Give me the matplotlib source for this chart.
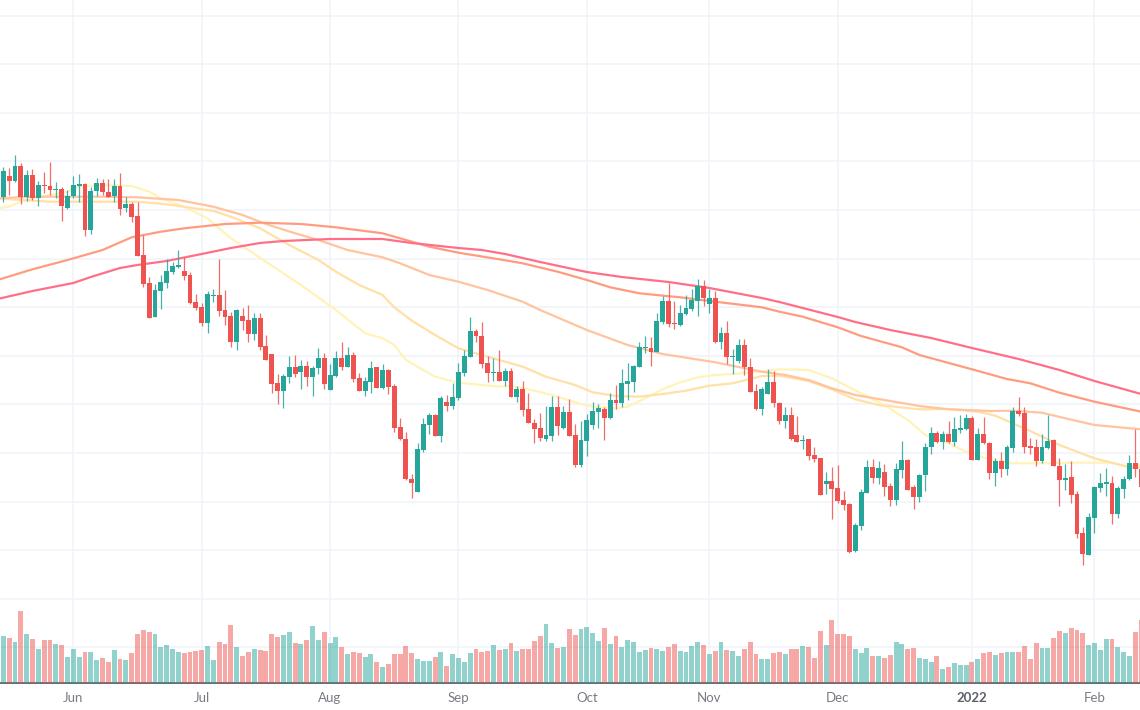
import numpy as np
import matplotlib
matplotlib.use('Agg')
import matplotlib.pyplot as plt

opens = [503,524,519.3,533.7,502.7,525,502,515,514,509.7,511.3,491.7,503.7,514.3,516.3,469.7,508.7,517.3,508.3,503.7,514.3,491.7,495.7,484,445,416.7,383.3,409.3,417,427.7,432.7,428.7,424.7,397.7,392.7,377.3,403.7,405.3,389.7,384,358,384,380,365.7,382,353.7,346,316.7,309,323,333,328.3,334.3,323,331.7,342,310.3,324,342,333.3,345,321.7,309.3,318.3,332.7,
    312,329.7,314,273,261.3,221.3,208.3,249.7,275,284.7,264.3,298,293.7,301.7,326.7,343,369.3,364.3,337,326.7,327.7,319,329.3,303,311,290.7,277,272,261.3,264.3,292.7,272,287.7,265,235,259.3,275,287.7,291.3,281.7,300,297.3,316,318,333.3,351.7,351.7,348,378,399.3,377,375,386,390.7,399.3,414,396,402.3,357.7,367.3,343.3,338.7,354.7,333,309,
    290.7,306.3,318,297.3,279,284.7,265.3,259,260.7,244.7,242,216,219.3,211.7,200,196.3,148.7,174,207,233,221.7,228,214,200,230.3,240,212.7,203,224.7,252.7,267,258.3,266,258.3,270.3,271,281.7,240.3,266,257.3,227.3,239,231.3,251.7,288.7,286.7,253.7,252.7,239,251.7,260,234.3,220,222.7,206,167,145,181.7,212,216,217.3,185.7,211,220.7,237,230.7]
highs = [532.7,531.7,545.3,537.3,530,531,519,527.7,537.7,518,513.3,510,524,526,516.7,513.3,522,521,521,520.7,526.7,503.3,498.3,497.7,464.7,422.7,415.7,424.7,441.3,438.3,450,443.3,428,406,396.7,409,410.7,441.3,410,388,390.7,391.7,394.7,387,387.3,365.3,346.3,326,326,344,345,340,338.7,334,352,346.7,336,348.7,357.7,353.3,348,326.7,323.3,339.3,333.3,
    336,331.3,315.7,281.7,267.7,226,256.7,281.7,286.7,286,304,304.7,316.7,337,350,383,371.3,378,344,342,350,332.3,331.7,314.3,318.7,307,280.7,287.3,294.3,304,304,293.7,301,275.7,279.3,286,298,296,293.3,307.3,314.7,331.3,337,335.3,357.7,364.3,363.3,386.7,404,416.7,399.3,395.3,405,411,420.7,419.7,410.7,409.3,372.7,378.7,350.7,360.7,360.7,341.7,315.7,
    312.7,330.7,329.3,298,293.3,292.7,284,265,261.3,252.7,242.3,228.3,233,234.7,209,196.7,176.7,210.7,240,240.7,239,235.7,217.3,237,259.3,240.7,215.3,226.3,257.3,273,269.3,269.3,278.7,283,285,285.7,284.3,271.7,282.7,258.3,241.7,248.3,254.7,292.7,303.3,293.3,262.3,261.3,266,285,261.3,242,236,239,208.7,173.3,187.3,214,227.3,232,224.3,214,224,244.7,270.7,236.7]
lows = [497.7,505.3,518.3,496,499,500,494.3,506.7,505.3,501.7,479.3,490.7,501.7,498.3,464,466,504,505,502.7,498.3,485,488,478.3,444,413.3,382,382.7,391,412,426,432.3,420,396.3,390,374.3,366.7,398,384.3,375.3,353.3,350,369.7,357.7,360,350,340,307.3,296,291.7,317.3,323.3,311.3,314,304,326,311.3,310,323.3,330,332.7,318.3,309,304,306.7,312,
    311.3,306.3,268.3,260.3,220,202.3,208,248.3,266,264,258.3,288.7,290.7,300,323.7,342.7,357.7,332.3,318,319,319,314,303,297.7,284,276.7,257.3,258.7,258.7,258.7,265.3,271.3,264,233.3,233.3,244,271,272,260.3,281,291,292.7,300,308.3,332.7,346.7,334.3,347.7,376.3,373.3,371.3,374.3,385.3,389,384,394.3,386.7,357,351,336,325.7,337.3,325.3,308,290.3,
    285,305.7,292.7,276.3,272.3,260,257.7,251,240.3,238.3,204.7,206,180.7,197.3,190,147.3,148.3,170,206.7,216.7,215.7,204.3,194,195.3,221.7,209.7,190.7,198,209,246,257.3,250.7,256.7,253.7,267.3,270,240,240,256,221.3,214,222.7,225.3,248,284,247,246,233.7,237.3,251,234,194.3,210,197.3,162.3,135.3,144.7,167.3,208,204,176,182.3,202,220,222.7,212]
closes = [529,519.3,533.7,502.7,525,501.7,515,513.7,509.7,511.3,494,504.3,515,516,469.7,509.3,517.3,507.7,503.3,514.3,491,495.7,483.3,444.3,416,382.3,410,418,428.7,433.7,435.3,424,396.7,392,377,406,405,389,383,357.7,390,379,365.7,382,353.3,340.3,316,309,323.7,333.3,325.7,334.3,323,332,342,316,324.7,342,333,345,320.7,309.3,318.7,332,312.3,
    330,313,272.3,260.7,220.7,217,250.7,276,284.7,264.3,302,293.7,303,327.7,344,369.3,363.7,336.3,326.7,328,319,329.3,303.3,311,289.7,277,271,261.7,265,292.7,274,287.7,264.3,235,260.3,280,288.7,291.7,282,300,297.3,316.7,318.7,334.3,352.7,352.7,348,379,399.3,376.3,376.3,386.7,391.7,400,414,401.7,402.3,357.7,367.3,343,344,354.7,332.7,308.3,290.7,
    310.7,318,296.7,279,284.7,260.7,258.3,260.3,244,241.3,205,219.3,211,199,195.3,147.7,174.7,207.7,233.3,221.7,232,213,200,231,240,210,203,225.3,253.3,267,258.3,266.3,258,271,272,281.7,240.3,266,256.7,227.3,239,231.3,252.7,288.7,286,252.7,252,239,252.7,259.3,234.3,220,222.3,205,166,146,182.7,213,216.7,217.7,185.7,212,221.3,237,230.7,213]
volumes = [47.3,45.3,41.3,72.7,49.3,44.3,34.3,43.3,43.3,39.3,38.3,26,34.3,26,31,31.7,23,25,21,33.7,24,23,30,49.3,53,51,49.3,36.3,38.3,34.3,31.7,30,31,32.7,33.7,37.3,23,41.3,39.3,58,36.3,27,31,34.3,33.7,32.7,49.3,46.3,48.3,51,40.3,39.3,43.3,57,43.3,51,40.3,46.3,36.3,29,31.7,30,26,29,21,
    16,19.3,29,29,37.3,30,24,22,22,26,31,17.3,29,25,21,30,34.3,31,32.7,38.3,33.7,34.3,40.3,32.7,34.3,34.3,42.3,47.3,59,40.3,35.7,36.3,54.3,48.3,54.3,56,50.3,42.3,55,39.3,47.3,36.3,43.3,41.3,31.7,33.7,35.7,34.3,32.7,36.3,39.3,32.7,31.7,37.3,41.3,38.3,29,32.7,41.3,33.7,32.7,27,34.3,41.3,29,
    24,24,30,31,29,34.3,34.3,37.3,36.3,25,52.3,38.3,63,49.3,49.3,47.3,34.3,30,35.7,27,27,25,28,41.3,39.3,34.3,35.7,25,24,21,27,14.3,16.3,20,18.3,18.3,21,24,30,31.7,28,30,31.7,31,31,37.3,24,40.3,35.7,35.7,45.3,52.3,50.3,55,53,50.3,38.3,40.3,33.7,44.3,44.3,36.3,31.7,27,51.3,63]

ma20_idx = [-1,1,3,5,11,13,17,22,25,27,31,35,39,45,51,57,62,65,67,69,71,74,78,82,85,87,90,94,99,101,105,107,110,113,116,119,122,125,130,133,138,142,147,151,155,158,162,165,169,173,178,184,190,193,195]
ma20 = [491.7,493.3,498.3,501.7,508.3,513.3,515,514,508.3,501.7,493.3,481.7,461.7,438.3,415,390,366.7,361.7,355,340,333.3,323.3,317.3,315,313.3,314,310.7,305,296,293.3,291.7,293.3,301.7,310.7,317.7,322.7,325,326,328.3,330.7,330,321.7,306.7,295,280,265,256.7,248.3,240.7,236.7,236.7,237.3,237.3,233.3,235]
ma30_idx = [-1,3,8,17,23,28,36,39,44,49,54,57,61,65,67,70,74,78,83,89,93,98,101,105,109,113,117,121,125,130,133,138,142,146,150,157,162,167,170,176,181,187,193,195]
ma30 = [501.7,500,498.3,498.3,498.3,495.7,489,483.3,471.7,455,440,428.3,415,405,392.7,379.3,365,351.7,343.3,333.3,323.3,315,307.7,304,303.3,306,309.3,314.3,316.7,324,324.3,319,310.7,300.7,295,290.7,291,288.3,284.3,269,255,241.7,232.7,232.7]
ma50_idx = [-1,5,17,23,30,36,41,45,50,54,59,65,68,73,78,83,89,92,100,107,113,122,130,134,138,142,146,151,157,162,169,173,178,182,187,195]
ma50 = [501.7,503.3,503.3,502.7,500,493.3,485,476,466.7,460,450,442.7,436.7,425,418.3,410,398.3,390,370,355,346,337.7,328.3,325,320,311.7,305,300,294,290.7,289,289.3,287.3,281.7,275,270.7]
ma100_idx = [-1,5,11,17,22,27,31,38,44,51,57,65,68,73,78,85,89,95,100,104,109,116,122,130,133,137,143,147,154,157,166,172,176,181,187,195]
ma100 = [420,430.7,440,450,462.7,468.3,471.7,476,477.3,476,472.7,466.7,461.7,453.3,447.3,440.7,436.7,428.3,420,412.7,406.7,402.7,398.3,392.7,388.3,383.3,372.7,364,352.7,345,330.7,321,316.7,307.3,298.3,288.3]
ma200_idx = [-1,5,12,15,20,23,28,34,39,44,48,56,65,70,78,82,86,92,100,106,114,121,130,133,137,143,146,152,159,166,174,181,187,195]
ma200 = [401,409,417,423,432,435,439,446,452,457,459,461,461,457,452,450,446,438,428,423,418,412,402,398,392,383,378,370,362,352,341,330,319,306]

month_ticks = [12, 34, 56, 78, 100, 121, 143, 166, 187]
month_labels = ['Jun', 'Jul', 'Aug', 'Sep', 'Oct', 'Nov', 'Dec', '2022', 'Feb']
price_grid = [52.7 + 48.6 * k for k in range(14)]

up_color = '#26a69a'
down_color = '#ef5350'
grid_color = '#f0f3f8'

opens = np.array(opens)
closes = np.array(closes)
days = np.arange(len(opens))
up = closes >= opens
colors = np.where(up, up_color, down_color)

fig = plt.figure(figsize=(11.4, 7.1), dpi=100)
ax = fig.add_axes([0, 26.7 / 710, 1, 683.3 / 710])

ax.set_xticks(month_ticks)
ax.set_xticklabels(month_labels, fontsize=9.5, family='Lato', color='#787b86')
ax.get_xticklabels()[7].set_fontweight('bold')
ax.get_xticklabels()[7].set_color('#5d606b')
ax.set_yticks(price_grid)
ax.tick_params(axis='both', length=0, labelleft=False, pad=6)
ax.grid(True, color=grid_color, lw=1.2, zorder=0)
ax.set_axisbelow(True)

# lines sit under the candles
ax.plot(ma20_idx, ma20, color='#fff3b8', lw=1.6, zorder=2)
ax.plot(ma30_idx, ma30, color='#ffe0a6', lw=1.6, zorder=2)
ax.plot(ma50_idx, ma50, color='#ffc49e', lw=1.6, zorder=2)
ax.plot(ma100_idx, ma100, color='#ff9c80', lw=1.6, zorder=2)
ax.plot(ma200_idx, ma200, color='#ff7088', lw=1.6, zorder=2)

ax.vlines(days, lows, highs, colors=colors, lw=0.9, alpha=0.85, zorder=3)
ax.bar(days, closes - opens, bottom=opens, width=0.84, color=colors, lw=0, zorder=4)

ax.set_xlim(-0.566, 194.8)
ax.set_ylim(16.7, 700)
for name in ['top', 'left', 'right']:
    ax.spines[name].set_visible(False)
ax.spines['bottom'].set_color('#50535e')
ax.spines['bottom'].set_linewidth(1.2)

ax_vol = ax.twinx()
ax_vol.bar(days, volumes, width=0.84, color=colors, alpha=0.5, lw=0)
ax_vol.set_ylim(0, 683.3)
ax_vol.set_yticks([])
for name in ['top', 'left', 'right', 'bottom']:
    ax_vol.spines[name].set_visible(False)

fig.savefig('out.png', dpi=100)
